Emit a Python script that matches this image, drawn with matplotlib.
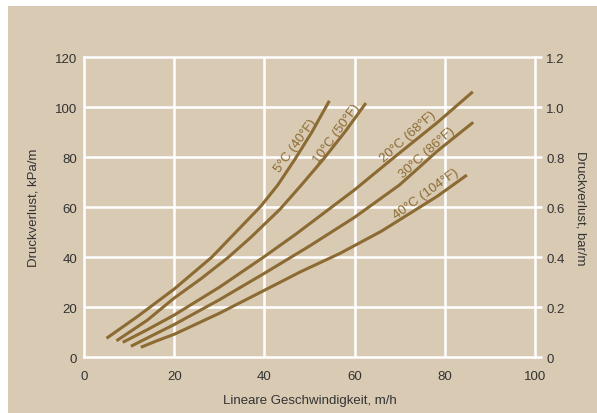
import matplotlib.pyplot as plt
from matplotlib.patches import Rectangle

plt.rcParams["font.family"] = ["Liberation Sans", "DejaVu Sans"]

# values (velocity m/h -> pressure loss kPa/m)
x_5c = [5.0, 12.0, 20.0, 28.3, 34.6, 39.2, 43.0, 46.8, 50.5, 54.4]
y_5c = [7.6, 16.5, 27.3, 40.0, 51.8, 60.4, 69.0, 79.3, 90.0, 102.6]

x_10c = [7.2, 14.0, 20.0, 26.0, 32.0, 37.0, 43.5, 48.0, 53.1, 58.0, 62.5]
y_10c = [6.6, 14.8, 23.7, 31.5, 40.0, 48.0, 59.3, 68.5, 79.3, 90.5, 101.7]

x_20c = [8.6, 14.0, 20.0, 30.0, 40.0, 47.0, 54.5, 60.0, 68.5, 78.4, 86.2]
y_20c = [6.0, 11.0, 16.9, 28.0, 40.3, 49.3, 59.5, 67.0, 79.6, 94.0, 106.2]

x_30c = [10.4, 15.0, 20.0, 30.0, 40.0, 50.0, 60.0, 70.0, 78.4, 86.3]
y_30c = [4.4, 8.6, 13.1, 23.0, 33.6, 44.5, 56.0, 69.0, 82.6, 94.0]

x_40c = [12.6, 16.0, 20.0, 30.0, 40.0, 48.0, 56.8, 66.0, 78.4, 84.9]
y_40c = [4.0, 6.5, 9.2, 17.6, 26.8, 34.2, 41.6, 50.5, 64.5, 72.9]

series = [
    (x_5c, y_5c, "5°C (40°F)", 46.9, 84.9, 54),
    (x_10c, y_10c, "10°C (50°F)", 56.0, 89.7, 54),
    (x_20c, y_20c, "20°C (68°F)", 71.9, 88.4, 42),
    (x_30c, y_30c, "30°C (86°F)", 76.1, 82.0, 42),
    (x_40c, y_40c, "40°C (104°F)", 75.8, 65.7, 36),
]

x_ticks = [0, 20, 40, 60, 80, 100]
y_ticks = [0, 20, 40, 60, 80, 100, 120]
bar_ticks = [0, 0.2, 0.4, 0.6, 0.8, 1.0, 1.2]
bar_labels = ["0", "0.2", "0.4", "0.6", "0.8", "1.0", "1.2"]

bg = "#d9cab3"
line_col = "#8b6b33"
text_col = "#333333"

fig = plt.figure(figsize=(5.97, 4.14), dpi=100, facecolor="white")
fig.add_artist(Rectangle((8 / 597, 0), 1, 407 / 414, transform=fig.transFigure,
                         facecolor=bg, edgecolor="none", zorder=-10))

ax = fig.add_axes([84 / 597, 1 - 358.3 / 414, 451 / 597, 300 / 414])
ax.set_facecolor(bg)
ax.set_xlim(0, 100)
ax.set_ylim(0, 120)

for x in x_ticks[1:-1]:
    ax.axvline(x, color="white", lw=1.8, zorder=1)
for y in y_ticks[1:-1]:
    ax.axhline(y, color="white", lw=1.8, zorder=1)
for s in ax.spines.values():
    s.set_color("white")
    s.set_linewidth(1.8)

for xs, ys, lab, tx, ty, rot in series:
    ax.plot(xs, ys, color=line_col, lw=2.2, solid_capstyle="butt", zorder=3)
    ax.text(tx, ty, lab, color=line_col, fontsize=9.5, rotation=rot,
            rotation_mode="anchor", ha="center", va="center", zorder=4)

ax.set_xticks(x_ticks)
ax.set_yticks(y_ticks)
ax.tick_params(axis="x", length=0, labelsize=9.5, labelcolor=text_col, pad=9)
ax.tick_params(axis="y", length=0, labelsize=9.5, labelcolor=text_col, pad=5)
ax.set_xlabel("Lineare Geschwindigkeit, m/h", fontsize=9.5, color=text_col, labelpad=9)
ax.set_ylabel("Druckverlust, kPa/m", fontsize=9.5, color=text_col, labelpad=11)

ax2 = ax.twinx()
ax2.set_ylim(0, 1.2)
ax2.set_yticks(bar_ticks)
ax2.set_yticklabels(bar_labels)
ax2.tick_params(axis="y", length=5, width=1.8, color="white", labelsize=9.5,
                labelcolor=text_col, pad=3)
for s in ax2.spines.values():
    s.set_visible(False)
ax2.set_ylabel("Druckverlust, bar/m", fontsize=9.5, color=text_col, rotation=270, labelpad=16)

fig.savefig("out.png", dpi=100, facecolor=fig.get_facecolor())
